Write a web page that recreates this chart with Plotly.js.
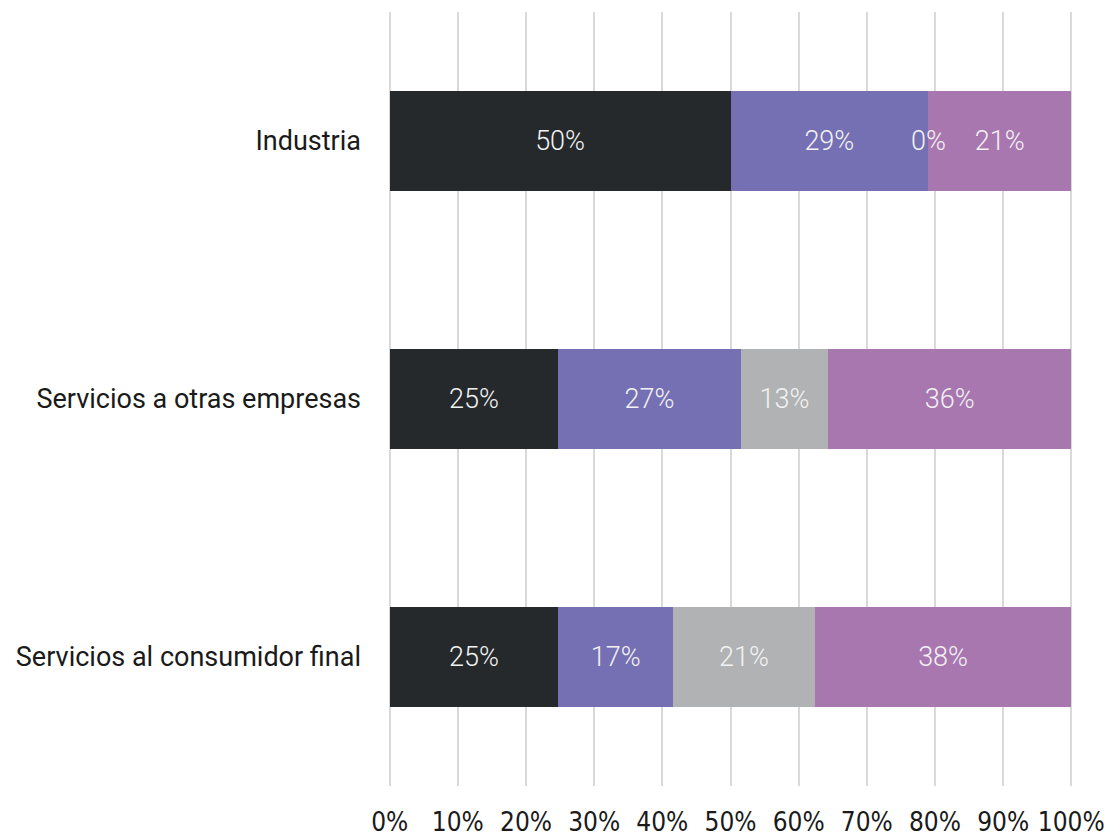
<!DOCTYPE html>
<html>
<head>
<meta charset="utf-8">
<script src="https://cdn.plot.ly/plotly-3.0.1.min.js"></script>
<style>html,body{margin:0;padding:0;background:#fff;}#chart{width:1108px;height:837px;}</style>
</head>
<body>
<div id="chart"></div>
<script>
const categories = ["Industria", "Servicios a otras empresas", "Servicios al consumidor final"];
const seriesA = [50, 25, 25];
const seriesB = [29, 27, 17];
const seriesC = [0, 13, 21];
const seriesD = [21, 36, 38];
const xTickVals = [0, 10, 20, 30, 40, 50, 60, 70, 80, 90, 100];
const xTickText = ["0%", "10%", "20%", "30%", "40%", "50%", "60%", "70%", "80%", "90%", "100%"];

const allSeries = [seriesA, seriesB, seriesC, seriesD];
const colors = ["#25292c", "#7570b3", "#b1b2b4", "#a877b0"];
const fontFam = "Roboto, 'Open Sans', sans-serif";
const narrowFam = "'Liberation Sans Narrow', 'DejaVu Sans Condensed', Roboto, sans-serif";

const traces = allSeries.map((s, i) => ({
  type: "bar",
  orientation: "h",
  y: categories,
  x: s,
  marker: {color: colors[i], line: {width: 0}},
  text: s.map(v => v + "%"),
  textposition: "inside",
  insidetextanchor: "middle",
  constraintext: "none",
  textfont: {family: fontFam, size: 27, weight: 300, color: "#f2f2f2"},
  hoverinfo: "skip",
  showlegend: false
}));

const annotations = [];
categories.forEach((c, ci) => {
  const total = allSeries.reduce((a, s) => a + s[ci], 0);
  let cum = 0;
  allSeries.forEach((s) => {
    if (s[ci] === 0) {
      annotations.push({x: cum / total * 100, y: c, xref: "x", yref: "y", text: "0%", showarrow: false,
        font: {family: fontFam, size: 27, weight: 300, color: "#f2f2f2"}, xanchor: "center", yanchor: "middle"});
    }
    cum += s[ci];
  });
});

const layout = {
  width: 1108, height: 837,
  margin: {l: 388, r: 35, t: 12, b: 51},
  paper_bgcolor: "#fff", plot_bgcolor: "#fff",
  barmode: "stack",
  barnorm: "percent",
  bargap: 0.612,
  xaxis: {
    range: [-0.25, 100.25],
    tickvals: xTickVals, ticktext: xTickText,
    showgrid: true, gridcolor: "#d9d9d9", gridwidth: 2,
    zeroline: false, showline: false, ticks: "",
    tickfont: {family: narrowFam, size: 26, color: "#1a1a1a"},
    ticklabelstandoff: 18, fixedrange: true
  },
  yaxis: {
    autorange: "reversed",
    showgrid: false, zeroline: false, showline: false, ticks: "",
    tickfont: {family: fontFam, size: 27, color: "#1a1a1a"},
    ticklabelstandoff: 26, fixedrange: true
  },
  annotations: annotations
};

Plotly.newPlot("chart", traces, layout, {displayModeBar: false, staticPlot: true});
</script>
</body>
</html>
